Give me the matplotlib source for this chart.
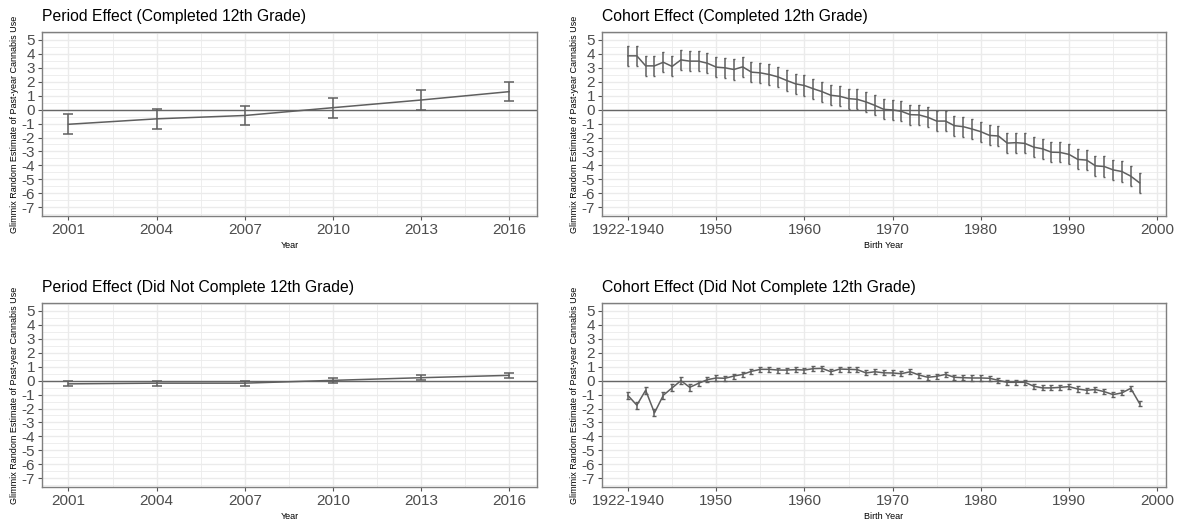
import matplotlib
matplotlib.use("Agg")
import matplotlib.pyplot as plt
import numpy as np
from matplotlib.ticker import MultipleLocator, FixedLocator

plt.rcParams['font.family'] = ['Liberation Sans', 'DejaVu Sans']
plt.rcParams['axes.unicode_minus'] = False

# ---------------- data ----------------
period_years = [2001, 2004, 2007, 2010, 2013, 2016]
period_comp = [-1.05, -0.66, -0.42, 0.14, 0.69, 1.29]
period_comp_err = [0.71, 0.71, 0.71, 0.71, 0.70, 0.70]
period_noncomp = [-0.23, -0.18, -0.18, 0.02, 0.21, 0.38]
period_noncomp_err = [0.18, 0.18, 0.18, 0.18, 0.19, 0.19]

cohort_years = list(range(1940, 1999))
cohort_comp = [3.86, 3.86, 3.14, 3.14, 3.40, 3.10, 3.57, 3.48, 3.48, 3.33,
               3.05, 3.00, 2.88, 3.07, 2.69, 2.64, 2.52, 2.35, 2.09, 1.85,
               1.73, 1.50, 1.29, 1.03, 0.96, 0.79, 0.74, 0.55, 0.30, 0.02,
               -0.02, -0.12, -0.36, -0.38, -0.55, -0.82, -0.82, -1.15, -1.22, -1.39,
               -1.58, -1.85, -1.89, -2.40, -2.37, -2.42, -2.69, -2.81, -3.05, -3.07,
               -3.21, -3.57, -3.62, -4.03, -4.08, -4.32, -4.44, -4.77, -5.25]
cohort_comp_err = [0.72] * 59
cohort_noncomp = [-1.07, -1.76, -0.69, -2.31, -1.05, -0.52, 0.00, -0.48, -0.19, 0.07,
                  0.19, 0.17, 0.33, 0.45, 0.67, 0.81, 0.81, 0.76, 0.76, 0.79,
                  0.76, 0.86, 0.88, 0.64, 0.83, 0.81, 0.79, 0.55, 0.64, 0.56,
                  0.55, 0.50, 0.64, 0.40, 0.24, 0.31, 0.45, 0.24, 0.21, 0.19,
                  0.19, 0.17, 0.02, -0.12, -0.12, -0.12, -0.40, -0.52, -0.52, -0.48,
                  -0.43, -0.60, -0.69, -0.64, -0.79, -1.00, -0.88, -0.55, -1.64]
cohort_noncomp_err = [0.25] * 8 + [0.18] * 51

y_ticks = list(range(-7, 6))
period_ticks = period_years
period_labels = [str(y) for y in period_years]
cohort_ticks = [1940, 1950, 1960, 1970, 1980, 1990, 2000]
cohort_labels = ['1922-1940', '1950', '1960', '1970', '1980', '1990', '2000']

titles = ["Period Effect (Completed 12th Grade)",
          "Cohort Effect (Completed 12th Grade)",
          "Period Effect (Did Not Complete 12th Grade)",
          "Cohort Effect (Did Not Complete 12th Grade)"]
ylab = "Glimmix Random Estimate of Past-year Cannabis Use"

# ---------------- figure ----------------
W, H = 1186, 523
fig = plt.figure(figsize=(W / 100, H / 100), dpi=100)
fig.patch.set_facecolor('white')


def px_axes(l, r, t, b):
    return fig.add_axes([l / W, 1 - b / H, (r - l) / W, (b - t) / H])


LINE = '#5f5f5f'
GRID = '#ebebeb'
TXT = '#4d4d4d'


def style(ax, title, xlab, xticks, xlabels, xminor, xlim):
    ax.set_xlim(*xlim)
    ax.set_ylim(-7.63, 5.57)
    ax.yaxis.set_major_locator(FixedLocator(y_ticks))
    ax.yaxis.set_minor_locator(MultipleLocator(0.5))
    ax.xaxis.set_major_locator(FixedLocator(xticks))
    ax.xaxis.set_minor_locator(FixedLocator(xminor))
    ax.set_xticklabels(xlabels)
    ax.grid(True, which='major', color=GRID, lw=1.0, zorder=0)
    ax.grid(True, which='minor', color=GRID, lw=0.6, zorder=0)
    ax.set_axisbelow(True)
    ax.tick_params(which='major', length=3, width=0.8, color='#555555',
                   labelsize=11, labelcolor=TXT, pad=2)
    ax.tick_params(which='minor', length=0)
    for s in ax.spines.values():
        s.set_color('#7f7f7f')
        s.set_linewidth(1.0)
    ax.set_title(title, loc='left', fontsize=11.3, color='black', pad=8)
    ax.set_xlabel(xlab, fontsize=6.5, color='black', labelpad=3)
    ax.set_ylabel(ylab, fontsize=6.5, color='black', labelpad=2)
    ax.axhline(0, color='#666666', lw=1.0, zorder=1)


# positions in pixels
left_x = (42, 537)
right_x = (602, 1166)
top_y = (32, 216)
bot_y = (303, 487)

p_minor = [2002.5, 2005.5, 2008.5, 2011.5, 2014.5]
c_minor = [1945, 1955, 1965, 1975, 1985, 1995]

ax1 = px_axes(left_x[0], left_x[1], top_y[0], top_y[1])
ax2 = px_axes(right_x[0], right_x[1], top_y[0], top_y[1])
ax3 = px_axes(left_x[0], left_x[1], bot_y[0], bot_y[1])
ax4 = px_axes(right_x[0], right_x[1], bot_y[0], bot_y[1])

style(ax1, titles[0], "Year", period_ticks, period_labels, p_minor, (2000.1, 2016.95))
style(ax2, titles[1], "Birth Year", cohort_ticks, cohort_labels, c_minor, (1937.05, 2001.0))
style(ax3, titles[2], "Year", period_ticks, period_labels, p_minor, (2000.1, 2016.95))
style(ax4, titles[3], "Birth Year", cohort_ticks, cohort_labels, c_minor, (1937.05, 2001.0))

ax1.errorbar(period_years, period_comp, yerr=period_comp_err, color=LINE, lw=1.1,
             elinewidth=1.1, capsize=3.5, capthick=1.1, zorder=3)
ax3.errorbar(period_years, period_noncomp, yerr=period_noncomp_err, color=LINE, lw=1.1,
             elinewidth=1.1, capsize=3.5, capthick=1.1, zorder=3)
ax2.errorbar(cohort_years, cohort_comp, yerr=cohort_comp_err, color=LINE, lw=1.1,
             elinewidth=1.1, capsize=0.8, capthick=1.0, zorder=3)
ax4.errorbar(cohort_years, cohort_noncomp, yerr=cohort_noncomp_err, color=LINE, lw=1.1,
             elinewidth=1.1, capsize=1.5, capthick=1.0, zorder=3)

fig.savefig("out.png", dpi=100, facecolor='white')
